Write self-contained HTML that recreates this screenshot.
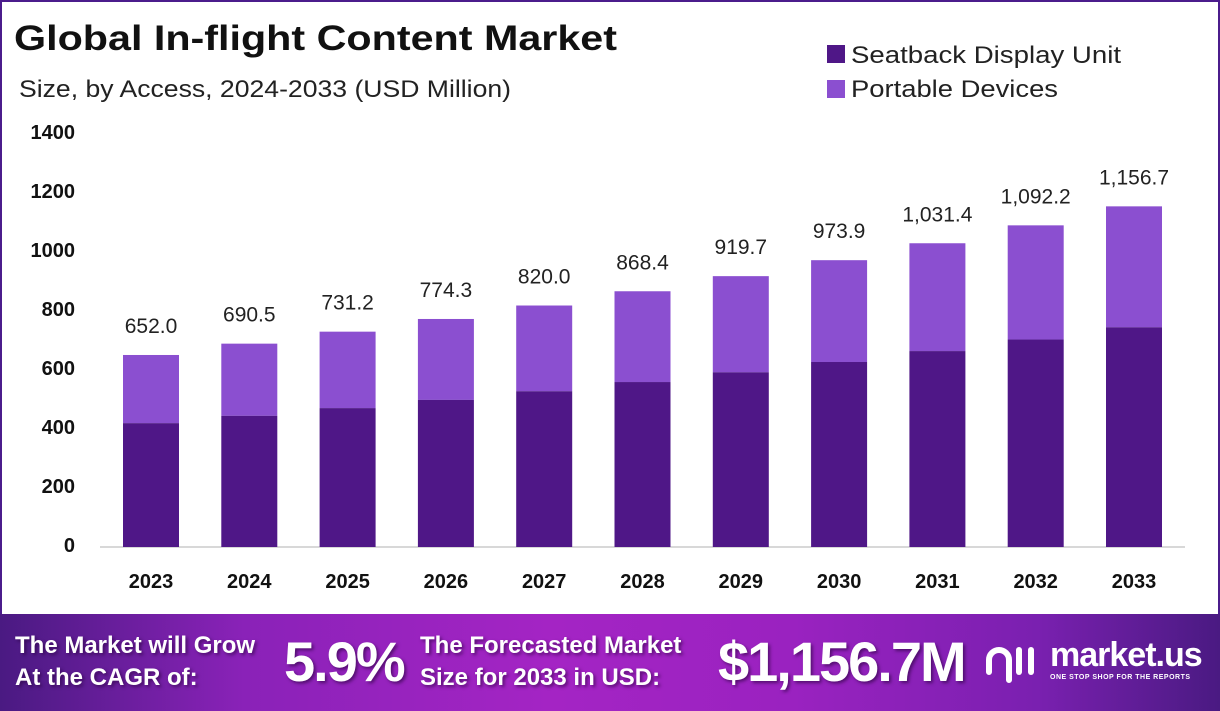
<!DOCTYPE html>
<html><head><meta charset="utf-8"><style>
body{margin:0;width:1220px;height:711px;overflow:hidden;background:#fff;font-family:"Liberation Sans",sans-serif}
.frame{position:absolute;left:0;top:0;width:1216px;height:612px;border:2px solid #4b1c8c;border-bottom:none}
.banner{position:absolute;left:0;top:614px;width:1220px;height:97px;background:linear-gradient(90deg,#4a1a82 0%,#8a22b8 20%,#a424c4 45%,#9a22c0 65%,#7a20b0 85%,#4a1a82 100%)}
.b{position:absolute;color:#fff;font-weight:bold;text-shadow:2px 2px 3px rgba(40,0,60,.6);white-space:nowrap}
</style></head><body>
<div class="frame"></div>
<svg width="1220" height="612" style="position:absolute;left:0;top:0" font-family="Liberation Sans, sans-serif">
<text x="14" y="50" font-size="35" font-weight="bold" fill="#111" textLength="603" lengthAdjust="spacingAndGlyphs">Global In-flight Content Market</text>
<text x="19" y="97" font-size="24" fill="#222" textLength="492" lengthAdjust="spacingAndGlyphs">Size, by Access, 2024-2033 (USD Million)</text>
<rect x="827" y="45" width="18" height="18" fill="#4f1787"/>
<text x="851" y="63" font-size="24" fill="#222" textLength="270" lengthAdjust="spacingAndGlyphs">Seatback Display Unit</text>
<rect x="827" y="80" width="18" height="18" fill="#8b4fd0"/>
<text x="851" y="97" font-size="24" fill="#222" textLength="207" lengthAdjust="spacingAndGlyphs">Portable Devices</text>
<g font-size="20" font-weight="bold" fill="#111" text-anchor="end">
<text x="75" y="552">0</text><text x="75" y="493">200</text><text x="75" y="434">400</text><text x="75" y="375">600</text><text x="75" y="316">800</text><text x="75" y="257">1000</text><text x="75" y="198">1200</text><text x="75" y="139">1400</text>
</g>
<line x1="100" y1="547" x2="1185" y2="547" stroke="#ccc" stroke-width="1.5"/>
<g id="bars"></g>
</svg>
<div class="banner">
<div class="b" style="left:15px;top:16px;font-size:24px;line-height:32px">The Market will Grow<br>At the CAGR of:</div>
<div class="b" style="left:284px;top:18px;font-size:56px;line-height:60px;letter-spacing:-2px">5.9%</div>
<div class="b" style="left:420px;top:16px;font-size:24px;line-height:32px">The Forecasted Market<br>Size for 2033 in USD:</div>
<div class="b" style="left:718px;top:18px;font-size:56px;line-height:60px;letter-spacing:-2px">$1,156.7M</div>
<svg style="position:absolute;left:985px;top:28px" width="55" height="45" viewBox="0 0 55 45"><g fill="none" stroke="#fff" stroke-width="6" stroke-linecap="round"><path d="M4 30 V18 a10 10 0 0 1 20 0 V38"/><path d="M34 8 V30"/><path d="M46 8 V30"/></g></svg>
<div class="b" style="left:1050px;top:22px;font-size:34px;line-height:38px;text-shadow:none;letter-spacing:-1px">market.us</div>
<div class="b" style="left:1050px;top:60px;font-size:7px;text-shadow:none;letter-spacing:.5px">ONE STOP SHOP FOR THE REPORTS</div>
</div>
<script>
var v=[652.0,690.5,731.2,774.3,820.0,868.4,919.7,973.9,1031.4,1092.2,1156.7];
var lab=["652.0","690.5","731.2","774.3","820.0","868.4","919.7","973.9","1,031.4","1,092.2","1,156.7"];
var g=document.getElementById('bars'),s='';
for(var i=0;i<11;i++){var x=123+i*98.3,h=v[i]*0.2945,d=h*0.645;
s+='<rect x="'+x+'" y="'+(547-h)+'" width="56" height="'+(h-d)+'" fill="#8b4fd0"/>';
s+='<rect x="'+x+'" y="'+(547-d)+'" width="56" height="'+d+'" fill="#4f1787"/>';
s+='<text x="'+(x+28)+'" y="'+(547-h-22)+'" font-size="21" fill="#222" text-anchor="middle">'+lab[i]+'</text>';
s+='<text x="'+(x+28)+'" y="588" font-size="20" font-weight="bold" fill="#111" text-anchor="middle">'+(2023+i)+'</text>';}
g.innerHTML=s;
</script>
</body></html>
